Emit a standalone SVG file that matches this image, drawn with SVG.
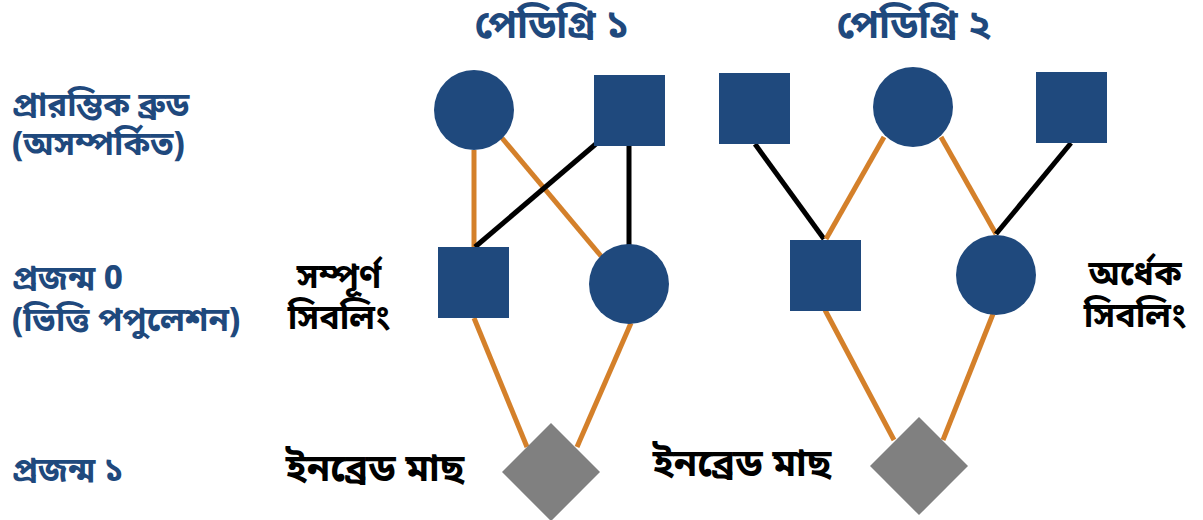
<svg xmlns="http://www.w3.org/2000/svg" width="1203" height="520" viewBox="0 0 1203 520">
<style>
.blue{fill:#1F497D}
.gray{fill:#808080}
.or{stroke:#D4802A;stroke-width:5;fill:none}
.bk{stroke:#000;stroke-width:5;fill:none}
text{font-family:"Noto Sans Bengali","Noto Sans",sans-serif;font-weight:bold}
.lbl{fill:#1F497D;font-size:33px}
.ttl{fill:#1F497D;font-size:39px;text-anchor:middle}
.blk{fill:#000;font-size:34px;text-anchor:middle}
.inb{fill:#000;font-size:38px;text-anchor:middle}
</style>
<rect width="1203" height="520" fill="#fff"/>
<g id="connectors">
<line class="or" x1="474" y1="150" x2="474" y2="247"/>
<line class="or" x1="502" y1="138" x2="601" y2="256"/>
<line class="bk" x1="597" y1="143" x2="475" y2="247"/>
<line class="bk" x1="629" y1="146" x2="629" y2="245"/>
<line class="or" x1="474" y1="318" x2="527" y2="447"/>
<line class="or" x1="631" y1="323" x2="577" y2="447"/>
<line class="bk" x1="755" y1="144" x2="824" y2="239"/>
<line class="or" x1="884" y1="137" x2="826" y2="239"/>
<line class="or" x1="941" y1="137" x2="996" y2="234"/>
<line class="bk" x1="1071" y1="143" x2="996" y2="234"/>
<line class="or" x1="825" y1="310" x2="894" y2="440"/>
<line class="or" x1="993" y1="314" x2="943" y2="440"/>
</g>
<g id="p1-dam"><circle class="blue" cx="474" cy="110" r="40"/></g>
<g id="p1-sire"><rect class="blue" x="594" y="75" width="71" height="71"/></g>
<g id="p1-son"><rect class="blue" x="438" y="247" width="71" height="71"/></g>
<g id="p1-daughter"><circle class="blue" cx="629" cy="284" r="40"/></g>
<g id="p1-inbred"><rect class="gray" x="516.4" y="437.4" width="69.3" height="69.3" transform="rotate(45 551 472)"/></g>
<g id="p2-sire1"><rect class="blue" x="719" y="73" width="71" height="71"/></g>
<g id="p2-dam"><circle class="blue" cx="913" cy="107" r="40"/></g>
<g id="p2-sire2"><rect class="blue" x="1036" y="72" width="71" height="71"/></g>
<g id="p2-son"><rect class="blue" x="790" y="240" width="71" height="71"/></g>
<g id="p2-daughter"><circle class="blue" cx="996" cy="275" r="40"/></g>
<g id="p2-inbred"><rect class="gray" x="884.4" y="431.4" width="69.3" height="69.3" transform="rotate(45 919 466)"/></g>
<g id="titles">
<text class="ttl" x="552" y="38">পেডিগ্রি ১</text>
<text class="ttl" x="914" y="38">পেডিগ্রি ২</text>
</g>
<g id="row-labels">
<text class="lbl" x="12" y="116">প্রারম্ভিক ব্রুড</text>
<text class="lbl" x="12" y="155">(অসম্পর্কিত)</text>
<text class="lbl" x="12" y="289">প্রজন্ম 0</text>
<text class="lbl" x="12" y="331">(ভিত্তি পপুলেশন)</text>
<text class="lbl" x="12" y="481">প্রজন্ম ১</text>
</g>
<g id="annotations">
<text class="blk" x="339" y="288">সম্পূর্ণ</text>
<text class="blk" x="339" y="329">সিবলিং</text>
<text class="blk" x="1135" y="285">অর্ধেক</text>
<text class="blk" x="1135" y="327">সিবলিং</text>
<text class="inb" x="375" y="481">ইনব্রেড মাছ</text>
<text class="inb" x="742" y="476">ইনব্রেড মাছ</text>
</g>
</svg>
